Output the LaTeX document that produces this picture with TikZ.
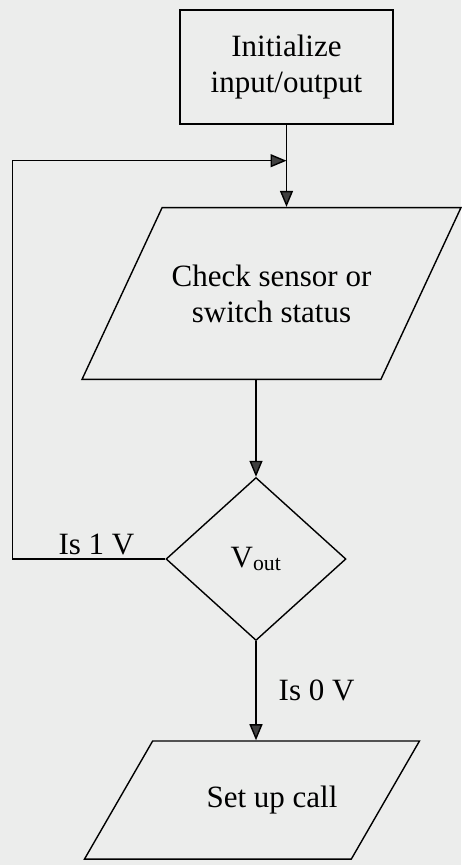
\documentclass[tikz,border=0pt]{standalone}
\usepackage{fontspec}
\setmainfont{Liberation Serif}
\usetikzlibrary{shapes.geometric,arrows.meta,positioning}
\definecolor{paper}{HTML}{ECEDEC}
\begin{document}
\begin{tikzpicture}[x=1pt,y=-1pt,line width=1.4pt,
  font=\fontsize{31}{36}\selectfont,
  box/.style={draw, align=center, inner sep=0pt},
  para/.style={draw, align=center, inner xsep=0pt, trapezium, trapezium stretches body=true},
  flow/.style={-{Triangle[width=13pt,length=16pt,fill=black!75]}}]
  \useasboundingbox[fill=paper] (0,0) rectangle (461,865);
  % blocks
  \node[box, minimum width=213pt, minimum height=114pt] (init) at (286.5,67) {Initialize\\input/output};
  \node[para, trapezium left angle=65, trapezium right angle=115, inner ysep=57pt,
        minimum width=379pt] (check) at (271.5,293.5) {Check sensor or\\switch status};
  \node[draw, diamond, inner sep=0pt, minimum width=180pt, minimum height=163pt] (dec) at (256,559) {V\textsubscript{out}};
  \node[para, trapezium left angle=60, trapezium right angle=120, inner ysep=45pt,
        minimum width=335pt] (setup) at (252,800) {\hspace*{40pt}Set up call};
  \coordinate[below=36pt of init.south] (merge);
  % connectors
  \draw[flow] (init.south) -- (init.south |- check.north);
  \draw[flow] (dec.north |- check.south) -- (dec.north);
  \draw[flow] (dec.south) -- (dec.south |- setup.north) node[midway, right=22pt, inner sep=0pt] {Is 0 V};
  \draw[flow] (dec.west) -- ++(-153,0) node[pos=0.45, above=3pt, inner sep=0pt] {Is 1 V} |- (merge);
\end{tikzpicture}
\end{document}
